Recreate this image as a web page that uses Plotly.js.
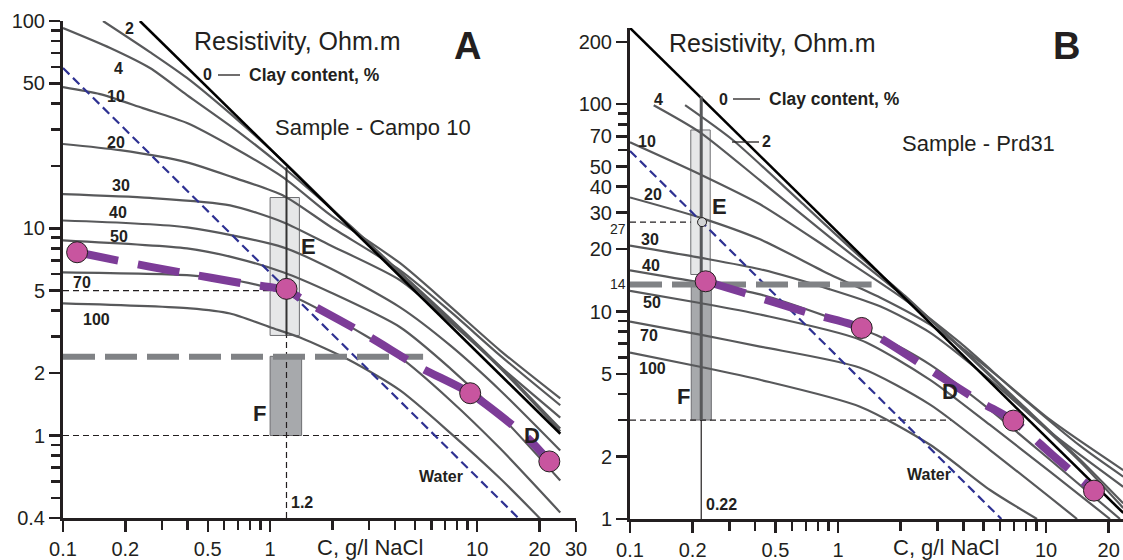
<!DOCTYPE html>
<html><head><meta charset="utf-8">
<script src="https://cdn.plot.ly/plotly-3.0.1.min.js"></script>
<style>html,body{margin:0;padding:0;background:#fff}#chart{width:1123px;height:560px}</style>
</head><body><div id="chart"></div>
<script>
// ---------- Panel A (Sample - Campo 10) ----------
const A_C0 = [0.235, 25.2];  const A_R0 = [100, 1.02];
const A_C2 = [0.156,0.263,0.397,0.716,1.156,2.435,4.246,7.408,12.92,25.18];
const A_R2 = [100,70.8,53.1,32.5,21.1,10.2,6.0,3.59,2.11,1.05];
const A_C4 = [0.1,0.169,0.263,0.397,0.716,1.156,2.435,4.246,7.408,12.92,25.18];
const A_R4 = [92.5,74.1,59.3,43.9,28.8,19.7,10.3,6.13,3.67,2.15,1.08];
const A_C10 = [0.1,0.151,0.243,0.397,0.662,1.156,1.95,4.246,7.408,12.92,25.18];
const A_R10 = [48.0,44.4,38.0,32.2,24.6,17.6,11.6,6.78,4.20,2.57,1.51];
const A_C20 = [0.1,0.188,0.397,0.662,1.156,1.95,4.246,7.408,12.92,25.18];
const A_R20 = [25.5,23.8,20.8,17.6,14.4,10.2,6.27,3.97,2.43,1.40];
const A_C30 = [0.1,0.263,0.641,1.156,1.95,4.246,7.408,12.92,25.18];
const A_R30 = [14.6,14.0,12.9,10.7,8.28,5.61,3.52,2.15,1.22];
const A_C40 = [0.1,0.397,1.156,1.95,4.246,7.408,12.92,25.18];
const A_R40 = [10.9,10.1,8.09,6.41,4.15,2.72,1.65,0.847];
const A_C50 = [0.1,0.397,0.662,1.156,1.95,4.246,7.408,12.92,25.18];
const A_R50 = [8.75,8.0,7.24,6.13,4.91,3.33,2.11,1.25,0.607];
const A_C70 = [0.1,0.411,0.716,1.156,1.95,4.246,7.408,12.92,25.18];
const A_R70 = [6.13,5.93,5.55,4.91,3.80,2.38,1.48,0.865,0.425];
const A_C100 = [0.1,0.411,0.641,1.0,1.396,2.435,4.246,7.408,12.92,20.15];
const A_R100 = [4.34,4.11,3.88,3.33,2.97,2.30,1.65,1.03,0.62,0.397];
const A_waterC = [0.1, 15.8]; const A_waterR = [59.3, 0.4];
const A_D_C = [0.117,0.182,0.368,0.741,1.2,1.51,2.94,5.30,9.25,17.4,22.3];
const A_D_R = [7.66,7.0,6.13,5.42,5.02,4.39,3.04,2.13,1.60,0.978,0.75];
const A_ptC = [0.117, 1.2, 9.25, 22.3];
const A_ptR = [7.66, 5.1, 1.60, 0.75];
const A_E_C = [1.0, 1.385]; const A_E_R = [3.04, 14.07];
const A_F_C = [1.0, 1.42];  const A_F_R = [1.0, 2.41];
const A_sampleC = 1.2;       const A_sampleR = [0.4, 3.04, 19.7];
const A_refR = [5, 1];       const A_refCend = [1.2, 10.5];
const A_thrR = 2.4;          const A_thrC = [0.1, 5.48];

// ---------- Panel B (Sample - Prd31) ----------
const B_C0 = [0.1, 23.5];  const B_R0 = [233, 1.07];
const B_C2 = [0.184,0.313,0.657,1.276,2.10,3.86,7.50,14.6,23.5];
const B_R2 = [98.9,67.0,34.0,18.4,11.9,6.70,3.56,1.89,1.13];
const B_C4 = [0.130,0.217,0.422,0.915,2.10,3.86,7.50,14.6,23.5];
const B_R4 = [98.9,73.2,42.9,22.8,11.7,6.78,3.63,1.93,1.19];
const B_C10 = [0.1,0.217,0.422,0.915,2.10,3.86,7.50,14.6,23.5];
const B_R10 = [65.5,45.9,32.9,19.9,11.4,7.08,3.93,2.25,1.60];
const B_C20 = [0.1,0.217,0.422,0.915,1.592,2.77,5.38,10.45,23.5];
const B_R20 = [35.5,28.4,22.3,15.1,11.7,8.65,5.24,3.01,1.72];
const B_C30 = [0.1,0.217,0.422,0.915,1.592,2.77,5.38,10.45,23.5];
const B_R30 = [20.8,18.2,16.0,12.8,10.6,7.92,4.69,2.63,1.43];
const B_C40 = [0.1,0.217,0.422,0.915,1.592,2.77,5.38,10.45,22.7];
const B_R40 = [15.8,13.8,12.1,9.35,7.57,5.55,3.36,1.93,1.0];
const B_C50 = [0.1,0.217,0.422,1.276,2.77,5.38,10.45,20.3];
const B_R50 = [12.6,11.0,9.68,7.32,4.69,2.84,1.69,1.0];
const B_C70 = [0.1,0.217,0.422,1.276,2.77,5.38,14.1];
const B_R70 = [8.95,7.74,6.78,5.36,3.56,2.15,1.0];
const B_C100 = [0.1,0.217,0.422,1.276,2.77,5.38,9.05];
const B_R100 = [6.34,5.42,4.69,3.48,2.28,1.38,1.0];
const B_waterC = [0.1, 6.1]; const B_waterR = [59.5, 1.0];
const B_D_C = [0.231,0.349,0.710,1.30,2.62,4.81,6.96,10.7,17.0];
const B_D_R = [14.0,12.36,9.89,8.34,5.43,3.68,2.98,2.04,1.37];
const B_ptC = [0.231, 1.30, 6.96, 17.0];
const B_ptR = [14.0, 8.34, 2.98, 1.37];
const B_E_C = [0.196, 0.243]; const B_E_R = [15.1, 75.1];
const B_F_C = [0.197, 0.246]; const B_F_R = [3.0, 13.5];
const B_sampleC = 0.22;        const B_sampleR = [1.0, 3.0, 109];
const B_refR = [27, 3.0];      const B_refCend = [0.196, 3.52];
const B_thrR = 13.5;           const B_thrC = [0.1, 1.45];
const B_crossC = 0.222;        const B_crossR = 27;

// tick values
const A_xTicks = [0.1,0.2,0.5,1,10,20,30];
const A_xMinor = [0.3,0.4,0.6,0.7,0.8,0.9,2,3,4,5,6,7,8,9];
const A_yTicks = [0.4,1,2,5,10,50,100];
const A_yMinor = [0.5,0.6,0.7,0.8,0.9,3,4,6,7,8,9,20,30,40,60,70,80,90];
const B_xTicks = [0.1,0.2,0.5,1,10,20];
const B_xMinor = [0.3,0.4,0.6,0.7,0.8,0.9,2,3,4,5,6,7,8,9];
const B_yTicks = [1,2,5,10,20,30,40,50,70,100,200];
const B_yMinor = [3,4,6,7,8,9,60,80,90];

// ---------- helpers ----------
const GRAY = '#58595b', PURPLE = '#7d3c98', MAG = '#c8559f', NAVY = '#2e3192', INK = '#231f20';
const traces = [];
function ln(x, y, ax, color, width, dash, spline) {
  traces.push({type:'scatter', mode:'lines', x:x, y:y, xaxis:ax[0], yaxis:ax[1],
    line:{color:color, width:width, dash:dash||'solid', shape:spline?'spline':'linear', smoothing:0.7},
    hoverinfo:'skip', showlegend:false});
}
function rect(cx, ry, ax, fill) {
  traces.push({type:'scatter', mode:'lines', xaxis:ax[0], yaxis:ax[1],
    x:[cx[0],cx[1],cx[1],cx[0],cx[0]], y:[ry[1],ry[1],ry[0],ry[0],ry[1]],
    fill:'toself', fillcolor:fill, line:{color:'#6d6e71', width:1}, hoverinfo:'skip', showlegend:false});
}
function pts(x, y, ax, size, fill) {
  traces.push({type:'scatter', mode:'markers', x:x, y:y, xaxis:ax[0], yaxis:ax[1],
    marker:{size:size, color:fill, line:{color:INK, width:1}}, hoverinfo:'skip', showlegend:false, cliponaxis:false});
}
const AX = ['x','y'], BX = ['x2','y2'];

// Panel A traces
rect(A_E_C, A_E_R, AX, '#e6e7e8');
rect(A_F_C, A_F_R, AX, '#a7a9ac');
ln([0.1, A_refCend[0]], [A_refR[0], A_refR[0]], AX, INK, 1.2, '6px,4px');
ln([0.1, A_refCend[1]], [A_refR[1], A_refR[1]], AX, INK, 1.2, '6px,4px');
[[A_C2,A_R2],[A_C4,A_R4],[A_C10,A_R10],[A_C20,A_R20],[A_C30,A_R30],[A_C40,A_R40],[A_C50,A_R50],[A_C70,A_R70],[A_C100,A_R100]]
  .forEach(p => ln(p[0], p[1], AX, GRAY, 2.2, 'solid', true));
ln(A_C0, A_R0, AX, '#000', 2.6);
ln(A_waterC, A_waterR, AX, NAVY, 2.2, '9px,5px');
ln([A_sampleC, A_sampleC], [A_sampleR[1], A_sampleR[2]], AX, '#333', 2);
ln([A_sampleC, A_sampleC], [A_sampleR[0], A_sampleR[1]], AX, INK, 1.2, '6px,4px');
ln(A_thrC, [A_thrR, A_thrR], AX, '#808285', 6, '32px,10px');
ln(A_D_C, A_D_R, AX, PURPLE, 8, '42px,20px', true);
pts(A_ptC, A_ptR, AX, 21, MAG);

// Panel B traces
rect(B_E_C, B_E_R, BX, '#e6e7e8');
rect(B_F_C, B_F_R, BX, '#a7a9ac');
ln([0.1, B_refCend[0]], [B_refR[0], B_refR[0]], BX, INK, 1.2, '6px,4px');
ln([0.1, B_refCend[1]], [B_refR[1], B_refR[1]], BX, INK, 1.2, '6px,4px');
[[B_C2,B_R2],[B_C4,B_R4],[B_C10,B_R10],[B_C20,B_R20],[B_C30,B_R30],[B_C40,B_R40],[B_C50,B_R50],[B_C70,B_R70],[B_C100,B_R100]]
  .forEach(p => ln(p[0], p[1], BX, GRAY, 2.2, 'solid', true));
ln(B_C0, B_R0, BX, '#000', 2.6);
ln([B_sampleC, B_sampleC], [B_sampleR[1], B_sampleR[2]], BX, '#58595b', 3);
ln([B_sampleC, B_sampleC], [B_sampleR[0], B_sampleR[1]], BX, INK, 1.2);
ln(B_waterC, B_waterR, BX, NAVY, 2.2, '9px,5px');
ln(B_thrC, [B_thrR, B_thrR], BX, '#808285', 6, '32px,10px');
ln(B_D_C, B_D_R, BX, PURPLE, 8, '42px,20px', true);
pts([B_crossC], [B_crossR], BX, 9, '#d1d3d4');
pts(B_ptC, B_ptR, BX, 21, MAG);

// ---------- layout ----------
const W = 1123, H = 560;
const FONT = 'Liberation Sans, Arial, Helvetica, sans-serif';
function axis(range, dom, anchor, tv, minor) {
  return {type:'log', range:range, domain:dom, anchor:anchor, showgrid:false, zeroline:false,
    showline:true, linecolor:INK, linewidth:3, ticks:'outside', ticklen:11, tickwidth:2.5, tickcolor:INK,
    tickmode:'array', tickvals:tv, ticktext:tv.map(String),
    tickfont:{family:FONT, size:20, color:INK},
    minor:{tickmode:'array', tickvals:minor, ticks:'outside', ticklen:9, tickwidth:2.5, tickcolor:INK, showgrid:false},
    fixedrange:true};
}
function pa(t, px, py, size, bold, xanchor, color) {
  return {text: bold ? '<b>'+t+'</b>' : t, xref:'paper', yref:'paper', x:px/W, y:1-py/H,
    xanchor:xanchor||'center', yanchor:'middle', showarrow:false,
    font:{family:FONT, size:size, color:color||INK}};
}
function seg(x0, x1, py) {
  return {type:'line', xref:'paper', yref:'paper', x0:x0/W, x1:x1/W, y0:1-py/H, y1:1-py/H, line:{color:INK, width:1.3}};
}
const annotations = [
  // A
  pa('Resistivity, Ohm.m', 297, 41, 25, false),
  pa('A', 467, 46, 38, true),
  pa('0', 207, 75, 16, true),
  pa('Clay content, %', 247, 75, 17.5, true, 'left'),
  pa('Sample - Campo 10', 373, 128, 22, false),
  pa('2', 129, 28, 16, true), pa('4', 118, 68, 16, true), pa('10', 116, 96, 16, true),
  pa('20', 116, 142, 16, true), pa('30', 121, 186, 16, true), pa('40', 118, 212, 16, true),
  pa('50', 119, 236, 16, true), pa('70', 82, 282, 16, true), pa('100', 96, 319, 16, true),
  pa('E', 308, 246, 22, true), pa('F', 259, 413, 22, true), pa('D', 532, 435, 22, true),
  pa('Water', 441, 476, 16, true), pa('1.2', 302, 502, 16, true),
  pa('C, g/l NaCl', 370, 547, 22, false),
  // B
  pa('Resistivity, Ohm.m', 772, 43, 25, false),
  pa('B', 1066, 46, 38, true),
  pa('0', 723, 99, 16, true),
  pa('Clay content, %', 767, 99, 17.5, true, 'left'),
  pa('2', 766, 141, 16, true),
  pa('Sample - Prd31', 978, 143, 22, false),
  pa('4', 658, 99, 16, true), pa('10', 647, 141, 16, true), pa('20', 653, 194, 16, true),
  pa('30', 650, 239, 16, true), pa('40', 651, 265, 16, true), pa('50', 652, 302, 16, true),
  pa('70', 649, 335, 16, true), pa('100', 652, 368, 16, true),
  pa('E', 719, 206, 22, true), pa('F', 683, 396, 22, true), pa('D', 950, 391, 22, true),
  pa('Water', 929, 474, 16, true), pa('0.22', 721, 504, 16, true),
  pa('27', 628, 229, 14, false, 'right'), pa('14', 628, 284, 14, false, 'right'),
  pa('C, g/l NaCl', 946, 547, 22, false)
];
const layout = {
  width:W, height:H, margin:{l:0, r:0, t:0, b:0}, paper_bgcolor:'#fff', plot_bgcolor:'rgba(0,0,0,0)',
  showlegend:false,
  xaxis: axis([-1, Math.log10(30)], [63/W, 576/W], 'y', A_xTicks, A_xMinor),
  yaxis: axis([Math.log10(0.4), 2], [1-518/H, 1-21/H], 'x', A_yTicks, A_yMinor),
  xaxis2: axis([-1, 1.370], [630/W, 1], 'y2', B_xTicks, B_xMinor),
  yaxis2: axis([0, Math.log10(233)], [1-519/H, 1-28/H], 'x2', B_yTicks, B_yMinor),
  annotations: annotations,
  shapes: [seg(218, 240, 75), seg(733, 760, 99), seg(732, 759, 142)]
};
Plotly.newPlot('chart', traces, layout, {staticPlot:true, displayModeBar:false});
</script>
</body></html>
